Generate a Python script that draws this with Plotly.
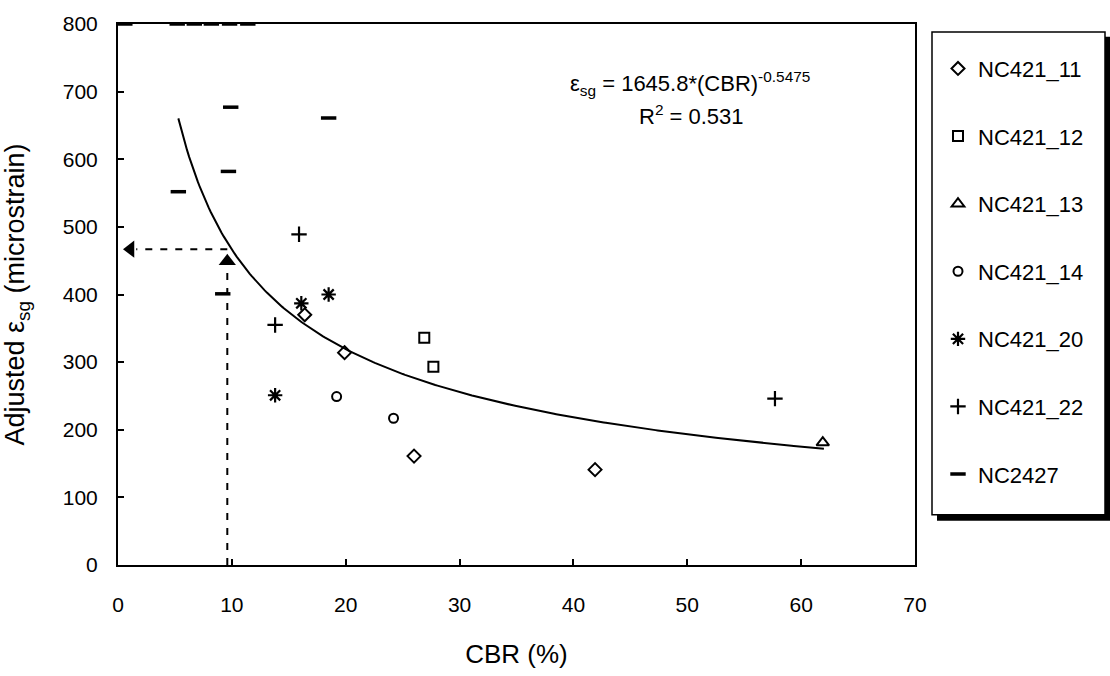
import numpy as np
import plotly.graph_objects as go

# ---- data ----
nc421_11_cbr = [16.4, 19.9, 26.0, 41.9]
nc421_11_strain = [370, 314, 161, 141]

nc421_12_cbr = [26.9, 27.7]
nc421_12_strain = [336, 293]

nc421_13_cbr = [61.9]
nc421_13_strain = [181]

nc421_14_cbr = [19.2, 24.2]
nc421_14_strain = [249, 217]

nc421_20_cbr = [13.8, 16.1, 18.5]
nc421_20_strain = [251, 387, 400]

nc421_22_cbr = [15.9, 13.8, 57.7]
nc421_22_strain = [489, 355, 246]

nc2427_cbr = [5.3, 9.9, 9.7, 18.5, 9.2, 0.6, 5.2, 6.7, 8.2, 9.8, 11.4]
nc2427_strain = [552, 677, 582, 661, 401, 800, 800, 800, 800, 800, 800]

# power-law fit shown on the chart
fit_a = 1645.8
fit_b = -0.5475
fit_cbr_min, fit_cbr_max = 5.3, 62.0

# design reading (dashed arrows)
design_cbr = 9.6
design_strain = 467

x_ticks = [0, 10, 20, 30, 40, 50, 60, 70]
y_ticks = [0, 100, 200, 300, 400, 500, 600, 700, 800]

FONT = "Liberation Sans, Arial, sans-serif"

fig = go.Figure()

series = [
    ("NC421_11", nc421_11_cbr, nc421_11_strain, "diamond-open", 10, 2),
    ("NC421_12", nc421_12_cbr, nc421_12_strain, "square-open", 10, 2),
    ("NC421_13", nc421_13_cbr, nc421_13_strain, "triangle-up-open", 11, 2),
    ("NC421_14", nc421_14_cbr, nc421_14_strain, "circle-open", 9, 2),
    ("NC421_20", nc421_20_cbr, nc421_20_strain, "asterisk-open", 12, 2.2),
    ("NC421_22", nc421_22_cbr, nc421_22_strain, "cross-thin-open", 11, 2.2),
    ("NC2427", nc2427_cbr, nc2427_strain, "line-ew-open", 11, 3.5),
]

for i, (name, xs, ys, sym, size, lw) in enumerate(series):
    fig.add_trace(go.Scatter(
        x=xs, y=ys, mode="markers", name=name,
        legendgroup=f"g{i}",
        marker=dict(symbol=sym, size=size, color="black",
                    line=dict(color="black", width=lw)),
    ))

# trend line
fx = np.linspace(fit_cbr_min, fit_cbr_max, 300)
fy = fit_a * fx ** fit_b
fig.add_trace(go.Scatter(x=fx, y=fy, mode="lines", showlegend=False,
                         line=dict(color="black", width=2)))

# dashed guide lines
fig.add_trace(go.Scatter(x=[design_cbr, 1.6], y=[design_strain, design_strain],
                         mode="lines", showlegend=False,
                         line=dict(color="black", width=2, dash="7px,8px")))
fig.add_trace(go.Scatter(x=[design_cbr, design_cbr], y=[0, design_strain - 30],
                         mode="lines", showlegend=False,
                         line=dict(color="black", width=2, dash="7px,8px")))
# arrowheads
fig.add_trace(go.Scatter(x=[1.1], y=[design_strain], mode="markers", showlegend=False,
                         marker=dict(symbol="triangle-left", size=15, color="black")))
fig.add_trace(go.Scatter(x=[design_cbr], y=[design_strain - 18], mode="markers",
                         showlegend=False,
                         marker=dict(symbol="triangle-up", size=15, color="black")))


def px_x(p):
    return (p - 118) / 797


def px_y(p):
    return (567 - p) / 549


# equation annotations
fig.add_annotation(x=px_x(690), y=px_y(78), xref="paper", yref="paper", showarrow=False,
                   xanchor="center", yanchor="middle",
                   text="ε<sub>sg</sub> = 1645.8*(CBR)<sup>-0.5475</sup>",
                   font=dict(family=FONT, size=22, color="black"))
fig.add_annotation(x=px_x(691), y=px_y(110), xref="paper", yref="paper",
                   showarrow=False, xanchor="center", yanchor="middle",
                   text="R<sup>2</sup> = 0.531",
                   font=dict(family=FONT, size=22, color="black"))

# legend box with shadow
fig.add_shape(type="rect", xref="paper", yref="paper",
              x0=px_x(937), x1=px_x(1110), y0=px_y(522), y1=px_y(31),
              fillcolor="black", line=dict(width=0), layer="below")
fig.add_shape(type="rect", xref="paper", yref="paper",
              x0=px_x(932), x1=px_x(1105), y0=px_y(516), y1=px_y(26),
              fillcolor="white", line=dict(color="black", width=1.5), layer="below")

fig.update_layout(
    width=1110, height=676,
    margin=dict(l=118, r=195, t=18, b=109),
    paper_bgcolor="white", plot_bgcolor="white",
    font=dict(family=FONT, size=21, color="black"),
    showlegend=True,
    legend=dict(x=px_x(938), y=px_y(42), xanchor="left", yanchor="top",
                bgcolor="rgba(0,0,0,0)", borderwidth=0,
                font=dict(family=FONT, size=22, color="black"),
                tracegroupgap=36, itemwidth=30),
    xaxis=dict(range=[0, 70], tickvals=x_ticks, ticks="inside", ticklen=6,
               tickwidth=1.5, tickcolor="black", showgrid=False, zeroline=False,
               showline=True, linecolor="black", linewidth=1.5, mirror=True,
               ticklabelstandoff=20,
               title=dict(text="CBR (%)", font=dict(family=FONT, size=26), standoff=30)),
    yaxis=dict(range=[0, 800], tickvals=y_ticks, ticks="inside", ticklen=6,
               tickwidth=1.5, tickcolor="black", showgrid=False, zeroline=False,
               showline=True, linecolor="black", linewidth=2, mirror=True,
               ticklabelstandoff=14,
               title=dict(text="Adjusted ε<sub>sg</sub> (microstrain)",
                          font=dict(family=FONT, size=27), standoff=30)),
)

fig.write_html("out.html")
